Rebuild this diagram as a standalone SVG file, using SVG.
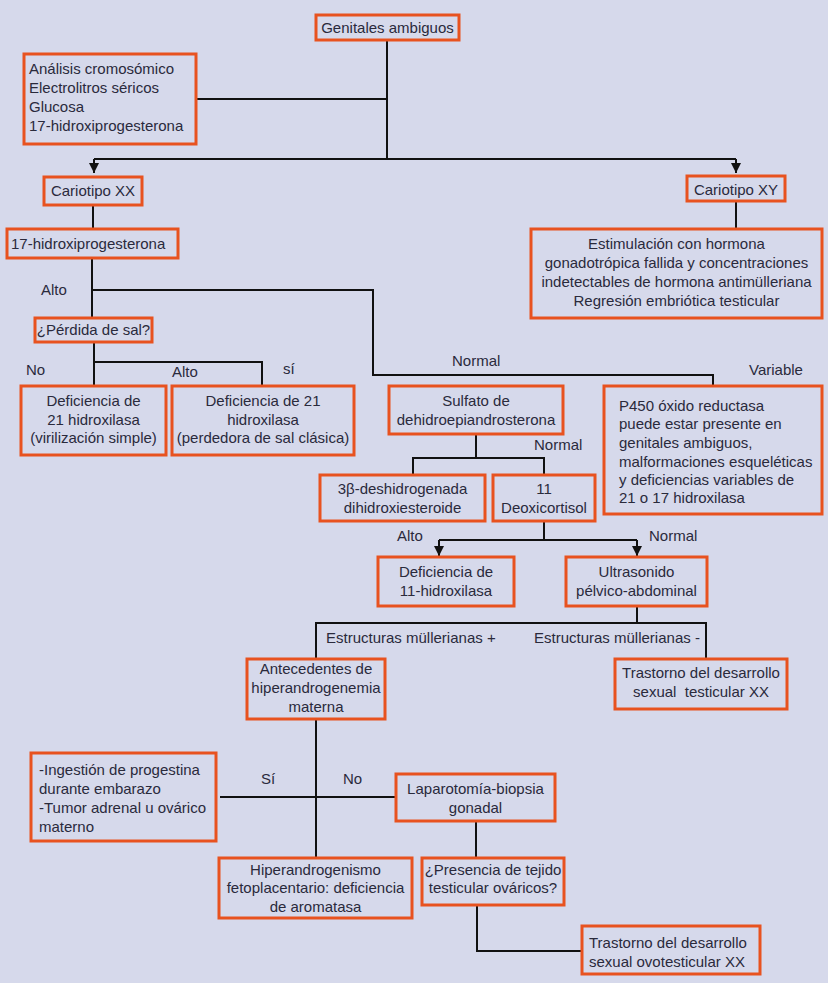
<svg xmlns="http://www.w3.org/2000/svg" width="832" height="983" viewBox="0 0 832 983">
<defs>
<style>
.bx{fill:none;stroke:#e8521f;stroke-width:3}
.t{font-family:"Liberation Sans","Noto Sans",sans-serif;font-size:15px;fill:#2a2a3c}
.c{text-anchor:middle}
.ln{fill:none;stroke:#111;stroke-width:2}
</style>
<marker id="ar" viewBox="0 0 10 10" refX="10" refY="5" markerWidth="10" markerHeight="10" markerUnits="userSpaceOnUse" orient="auto">
<path d="M0,0 L10,5 L0,10 Z" fill="#111"/>
</marker>
</defs>
<rect x="0" y="0" width="832" height="983" fill="#ffffff"/>
<rect x="0" y="0" width="828" height="983" fill="#d6d9eb"/>

<g id="connectors">
<path class="ln" d="M387,40 V159"/>
<path class="ln" d="M196,99 H387"/>
<path class="ln" d="M94,159 H736"/>
<path class="ln" d="M94,159 V173" marker-end="url(#ar)"/>
<path class="ln" d="M736,159 V173" marker-end="url(#ar)"/>
<path class="ln" d="M93,205 V229"/>
<path class="ln" d="M736,201 V229"/>
<path class="ln" d="M92,258 V318"/>
<path class="ln" d="M92,290 H373 V375 H713 V386"/>
<path class="ln" d="M94,342 V386"/>
<path class="ln" d="M94,362 H262 V386"/>
<path class="ln" d="M476,434 V458"/>
<path class="ln" d="M413,475 V458 H544 V475"/>
<path class="ln" d="M544,521 V540"/>
<path class="ln" d="M439,540 H637"/>
<path class="ln" d="M439,540 V556" marker-end="url(#ar)"/>
<path class="ln" d="M637,540 V556" marker-end="url(#ar)"/>
<path class="ln" d="M637,606 V623"/>
<path class="ln" d="M316,658 V623 H706 V658"/>
<path class="ln" d="M316,719 V857"/>
<path class="ln" d="M220,797 H396"/>
<path class="ln" d="M476,821 V858"/>
<path class="ln" d="M477,905 V951 H582"/>
</g>

<g id="labels">
<text class="t" x="41" y="295">Alto</text>
<text class="t" x="26" y="375">No</text>
<text class="t" x="172" y="377">Alto</text>
<text class="t" x="283" y="374">sí</text>
<text class="t" x="452" y="366">Normal</text>
<text class="t" x="749" y="375">Variable</text>
<text class="t" x="534" y="450">Normal</text>
<text class="t" x="397" y="541">Alto</text>
<text class="t" x="649" y="541">Normal</text>
<text class="t" x="326" y="643">Estructuras müllerianas +</text>
<text class="t" x="534" y="643">Estructuras müllerianas -</text>
<text class="t" x="261" y="784">Sí</text>
<text class="t" x="343" y="784">No</text>
</g>

<g id="n-genitales">
<rect class="bx" x="316" y="15" width="143" height="25"/>
<text class="t c" x="387.5" y="33">Genitales ambiguos</text>
</g>
<g id="n-analisis">
<rect class="bx" x="24" y="54" width="172" height="90"/>
<text class="t" x="29" y="74">Análisis cromosómico</text>
<text class="t" x="29" y="93">Electrolitros séricos</text>
<text class="t" x="29" y="112">Glucosa</text>
<text class="t" x="29" y="131">17-hidroxiprogesterona</text>
</g>
<g id="n-xx">
<rect class="bx" x="44" y="177" width="98" height="28"/>
<text class="t c" x="93" y="196">Cariotipo XX</text>
</g>
<g id="n-xy">
<rect class="bx" x="687" y="176" width="98" height="25"/>
<text class="t c" x="736" y="195">Cariotipo XY</text>
</g>
<g id="n-17oh">
<rect class="bx" x="7" y="229" width="171" height="29"/>
<text class="t" x="11" y="249">17-hidroxiprogesterona</text>
</g>
<g id="n-estimulacion">
<rect class="bx" x="531" y="229" width="291" height="89"/>
<text class="t c" x="676.5" y="249">Estimulación con hormona</text>
<text class="t c" x="676.5" y="268">gonadotrópica fallida y concentraciones</text>
<text class="t c" x="676.5" y="287">indetectables de hormona antimülleriana</text>
<text class="t c" x="676.5" y="306">Regresión embriótica testicular</text>
</g>
<g id="n-perdida">
<rect class="bx" x="35" y="318" width="117" height="24"/>
<text class="t c" x="93.5" y="335">¿Pérdida de sal?</text>
</g>
<g id="n-def21a">
<rect class="bx" x="21" y="386" width="145" height="69"/>
<text class="t c" x="93.5" y="406">Deficiencia de</text>
<text class="t c" x="93.5" y="425">21 hidroxilasa</text>
<text class="t c" x="93.5" y="443">(virilización simple)</text>
</g>
<g id="n-def21b">
<rect class="bx" x="172" y="386" width="182" height="69"/>
<text class="t c" x="263" y="406">Deficiencia de 21</text>
<text class="t c" x="263" y="425">hidroxilasa</text>
<text class="t c" x="263" y="443">(perdedora de sal clásica)</text>
</g>
<g id="n-sulfato">
<rect class="bx" x="389" y="386" width="174" height="48"/>
<text class="t c" x="476" y="406">Sulfato de</text>
<text class="t c" x="476" y="425">dehidroepiandrosterona</text>
</g>
<g id="n-p450">
<rect class="bx" x="604" y="386" width="218" height="128"/>
<text class="t" x="619" y="411">P450 óxido reductasa</text>
<text class="t" x="619" y="429">puede estar presente en</text>
<text class="t" x="619" y="448">genitales ambiguos,</text>
<text class="t" x="619" y="467">malformaciones esqueléticas</text>
<text class="t" x="619" y="485">y deficiencias variables de</text>
<text class="t" x="619" y="503">21 o 17 hidroxilasa</text>
</g>
<g id="n-3beta">
<rect class="bx" x="320" y="475" width="165" height="46"/>
<text class="t c" x="402.5" y="494">3β-deshidrogenada</text>
<text class="t c" x="402.5" y="513">dihidroxiesteroide</text>
</g>
<g id="n-11deoxi">
<rect class="bx" x="493" y="475" width="102" height="46"/>
<text class="t c" x="544" y="494">11</text>
<text class="t c" x="544" y="513">Deoxicortisol</text>
</g>
<g id="n-def11">
<rect class="bx" x="378" y="557" width="136" height="49"/>
<text class="t c" x="446" y="577">Deficiencia de</text>
<text class="t c" x="446" y="596">11-hidroxilasa</text>
</g>
<g id="n-ultrasonido">
<rect class="bx" x="566" y="557" width="141" height="49"/>
<text class="t c" x="636.5" y="577">Ultrasonido</text>
<text class="t c" x="636.5" y="596">pélvico-abdominal</text>
</g>
<g id="n-antecedentes">
<rect class="bx" x="247" y="659" width="138" height="60"/>
<text class="t c" x="316" y="674">Antecedentes de</text>
<text class="t c" x="316" y="693">hiperandrogenemia</text>
<text class="t c" x="316" y="712">materna</text>
</g>
<g id="n-trastorno-testicular">
<rect class="bx" x="615" y="659" width="172" height="50"/>
<text class="t c" x="701" y="678">Trastorno del desarrollo</text>
<text class="t c" x="701" y="697" xml:space="preserve">sexual  testicular XX</text>
</g>
<g id="n-ingestion">
<rect class="bx" x="31" y="753" width="185" height="88"/>
<text class="t" x="39" y="775">-Ingestión de progestina</text>
<text class="t" x="39" y="794">durante embarazo</text>
<text class="t" x="39" y="813">-Tumor adrenal u ovárico</text>
<text class="t" x="39" y="832">materno</text>
</g>
<g id="n-laparotomia">
<rect class="bx" x="396" y="774" width="159" height="47"/>
<text class="t c" x="475.5" y="794">Laparotomía-biopsia</text>
<text class="t c" x="475.5" y="813">gonadal</text>
</g>
<g id="n-hiperandrogenismo">
<rect class="bx" x="219" y="858" width="193" height="60"/>
<text class="t c" x="315.5" y="875">Hiperandrogenismo</text>
<text class="t c" x="315.5" y="893">fetoplacentario: deficiencia</text>
<text class="t c" x="315.5" y="912">de aromatasa</text>
</g>
<g id="n-presencia">
<rect class="bx" x="422" y="858" width="142" height="47"/>
<text class="t c" x="493" y="875">¿Presencia de tejido</text>
<text class="t c" x="493" y="893">testicular ováricos?</text>
</g>
<g id="n-trastorno-ovotesticular">
<rect class="bx" x="582" y="926" width="178" height="48"/>
<text class="t" x="589" y="948">Trastorno del desarrollo</text>
<text class="t" x="589" y="967">sexual ovotesticular XX</text>
</g>
</svg>
